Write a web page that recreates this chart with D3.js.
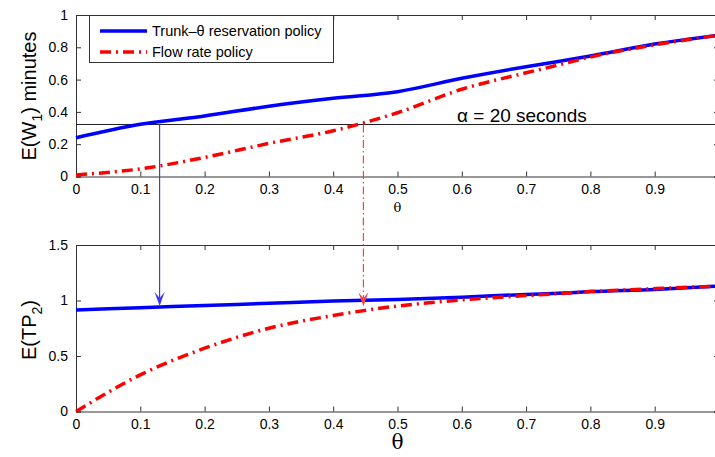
<!DOCTYPE html>
<html>
<head>
<meta charset="utf-8">
<script src="https://cdn.jsdelivr.net/npm/d3@7"></script>
<style>
  body { margin: 0; background: #fff; }
  svg { display: block; font-family: "Liberation Sans", Arial, sans-serif; }
  .tick text { font-size: 14px; fill: #000; }
</style>
</head>
<body>
<div id="chart"></div>
<script>
// theta values where the curves were read
var theta = [0, 0.1, 0.2, 0.3, 0.4, 0.5, 0.6, 0.7, 0.75, 0.8, 0.9, 1.0];

// E(W1) in minutes
var trunkWait = [0.24, 0.323, 0.375, 0.435, 0.484, 0.525, 0.608, 0.68, 0.712, 0.746, 0.82, 0.875];
var flowWait  = [0.01, 0.047, 0.118, 0.205, 0.283, 0.395, 0.54, 0.642, 0.69, 0.74, 0.815, 0.875];

// E(TP2)
var trunkTP = [0.915, 0.935, 0.955, 0.975, 0.995, 1.01, 1.03, 1.055, 1.065, 1.08, 1.10, 1.13];
var flowTP  = [0, 0.33, 0.57, 0.75, 0.865, 0.95, 1.005, 1.044, 1.062, 1.08, 1.107, 1.13];

var xTicks = [0, 0.1, 0.2, 0.3, 0.4, 0.5, 0.6, 0.7, 0.8, 0.9];
var topYTicks = [0, 0.2, 0.4, 0.6, 0.8, 1];
var botYTicks = [0, 0.5, 1, 1.5];

var alphaLevel = 0.322;   // alpha = 20 seconds
var trunkCross = 0.13;    // where each policy meets the alpha line
var flowCross = 0.447;

var legendNames = ["Trunk\u2013\u03b8 reservation policy", "Flow rate policy"];

var width = 715, height = 457;
var svg = d3.select("#chart").append("svg")
    .attr("width", width).attr("height", height);

var x = d3.scaleLinear().domain([0, 1]).range([76, 719]);
var yTop = d3.scaleLinear().domain([0, 1]).range([176.5, 15]);
var yBot = d3.scaleLinear().domain([0, 1.5]).range([411.5, 245]);

var blue = "#0000ff", red = "#ff0000";
var dashDot = "11,5,2,5";

function drawFrame(y, ticks) {
    var g = svg.append("g");
    var r = y.range();
    g.append("g").attr("transform", "translate(0," + r[0] + ")")
        .call(d3.axisBottom(x).tickValues(xTicks).tickSize(-5).tickPadding(8)
            .tickFormat(function (d) { return d; }));
    g.append("g").attr("transform", "translate(0," + r[1] + ")")
        .call(d3.axisTop(x).tickValues(xTicks).tickSize(-5).tickFormat(""));
    g.append("g").attr("transform", "translate(" + x(0) + ",0)")
        .call(d3.axisLeft(y).tickValues(ticks).tickSize(-5).tickPadding(8)
            .tickFormat(function (d) { return d; }));
    g.append("g").attr("transform", "translate(" + x(1) + ",0)")
        .call(d3.axisRight(y).tickValues(ticks).tickSize(-5).tickFormat(""));
    g.selectAll(".domain").attr("stroke", "#333");
    g.selectAll(".tick line").attr("stroke", "#333");
    return g;
}

drawFrame(yTop, topYTicks);
drawFrame(yBot, botYTicks);

function curve(y) {
    return d3.line().x(function (d) { return x(d[0]); }).y(function (d) { return y(d[1]); })
        .curve(d3.curveMonotoneX);
}

function series(vals) { return theta.map(function (t, i) { return [t, vals[i]]; }); }

// alpha line
svg.append("line")
    .attr("x1", x(0)).attr("x2", x(1))
    .attr("y1", yTop(alphaLevel)).attr("y2", yTop(alphaLevel))
    .attr("stroke", "#222").attr("stroke-width", 1);

svg.append("text")
    .attr("x", 457).attr("y", 122)
    .style("font-size", "19px")
    .text("\u03b1 = 20 seconds");

// top curves
svg.append("path").datum(series(trunkWait))
    .attr("d", curve(yTop)).attr("fill", "none")
    .attr("stroke", blue).attr("stroke-width", 3.5);
svg.append("path").datum(series(flowWait))
    .attr("d", curve(yTop)).attr("fill", "none")
    .attr("stroke", red).attr("stroke-width", 3.5).attr("stroke-dasharray", dashDot);

// bottom curves
svg.append("path").datum(series(trunkTP))
    .attr("d", curve(yBot)).attr("fill", "none")
    .attr("stroke", blue).attr("stroke-width", 3.5);
svg.append("path").datum(series(flowTP))
    .attr("d", curve(yBot)).attr("fill", "none")
    .attr("stroke", red).attr("stroke-width", 3.5).attr("stroke-dasharray", dashDot);

// arrows from alpha line to the lower plot
var trunkAt = d3.scaleLinear().domain(theta).range(trunkTP);
function arrow(xv, yEnd, color, dash) {
    var px = x(xv);
    svg.append("line")
        .attr("x1", px).attr("x2", px)
        .attr("y1", yTop(alphaLevel)).attr("y2", yEnd - 2)
        .attr("stroke", color).attr("stroke-width", 1.2)
        .attr("stroke-dasharray", dash || null);
    svg.append("path")
        .attr("d", "M" + (px - 5) + "," + (yEnd - 14) + " L" + px + "," + (yEnd - 8) +
            " L" + (px + 5) + "," + (yEnd - 14) + " L" + px + "," + yEnd + " Z")
        .attr("fill", color);
}
arrow(trunkCross, yBot(trunkAt(trunkCross)) - 1, "#3a3aff");
arrow(flowCross, yBot(trunkAt(flowCross)) + 6, "#ff4040", "8,3,1.5,3");

// legend
var lg = svg.append("g");
lg.append("rect").attr("x", 89.5).attr("y", 15.5).attr("width", 244).attr("height", 47)
    .attr("fill", "#fff").attr("stroke", "#333");
[blue, red].forEach(function (c, i) {
    var yy = 31 + i * 21;
    lg.append("line").attr("x1", 100).attr("x2", 147).attr("y1", yy).attr("y2", yy)
        .attr("stroke", c).attr("stroke-width", 3.5)
        .attr("stroke-dasharray", i ? dashDot : null);
    lg.append("text").attr("x", 152).attr("y", yy + 5)
        .style("font-size", "14.5px").text(legendNames[i]);
});

// axis labels
svg.append("text")
    .attr("transform", "translate(36,96) rotate(-90)")
    .attr("text-anchor", "middle").style("font-size", "20px")
    .html('E(W<tspan dy="6" font-size="14px">1</tspan><tspan dy="-6">) minutes</tspan>');
svg.append("text")
    .attr("transform", "translate(36,330) rotate(-90)")
    .attr("text-anchor", "middle").style("font-size", "20px")
    .html('E(TP<tspan dy="6" font-size="14px">2</tspan><tspan dy="-6">)</tspan>');

svg.append("text").attr("x", x(0.5)).attr("y", 212)
    .attr("text-anchor", "middle").style("font-size", "13px")
    .style("font-family", "DejaVu Serif, serif").text("\u03b8");
svg.append("text").attr("x", x(0.5)).attr("y", 449)
    .attr("text-anchor", "middle").style("font-size", "20px")
    .style("font-family", "DejaVu Serif, serif").text("\u03b8");
</script>
</body>
</html>
